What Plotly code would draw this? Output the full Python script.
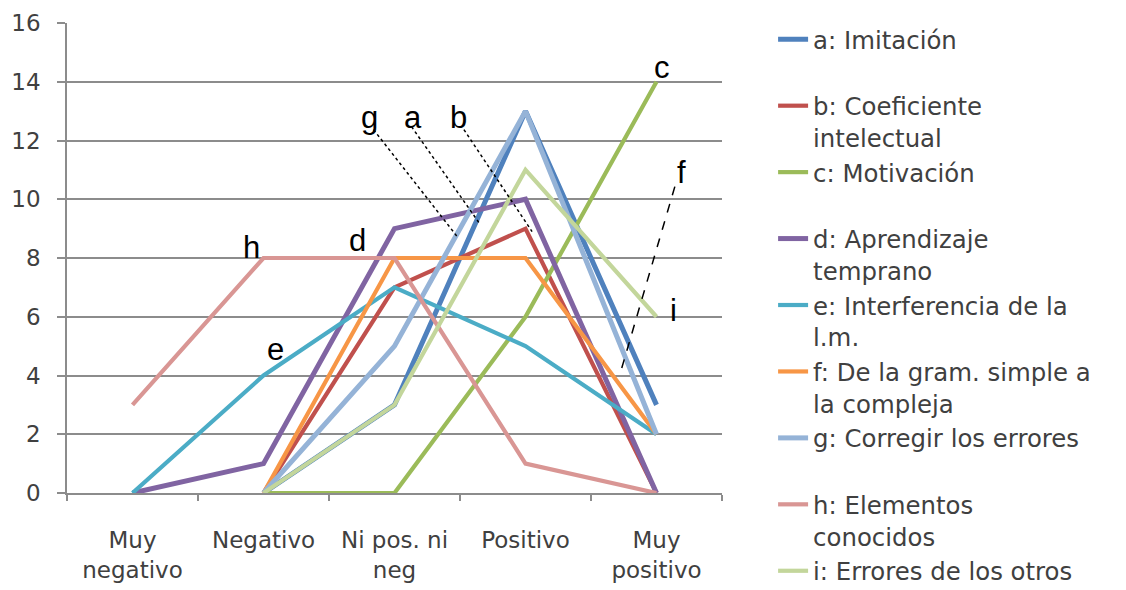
import plotly.graph_objects as go

# Response categories on the x axis
categories = ["Muy<br>negativo", "Negativo", "Ni pos. ni<br>neg", "Positivo", "Muy<br>positivo"]

# Counts per factor (None = no answer recorded for that category)
a_imitacion = [None, 0, 3, 13, 3]
b_coeficiente = [None, 0, 7, 9, 0]
c_motivacion = [None, 0, 0, 6, 14]
d_aprendizaje = [0, 1, 9, 10, 0]
e_interferencia = [0, 4, 7, 5, 2]
f_gramatica = [None, 0, 8, 8, 2]
g_corregir = [None, 0, 5, 13, 2]
h_elementos = [3, 8, 8, 1, 0]
i_errores = [None, 0, 3, 11, 6]

series_names = [
    "a: Imitación<br> ",
    "b: Coeficiente<br>intelectual",
    "c: Motivación<br> ",
    "d: Aprendizaje<br>temprano",
    "e: Interferencia de la<br>l.m.",
    "f: De la gram. simple a<br>la compleja",
    "g: Corregir los errores<br> ",
    "h: Elementos<br>conocidos",
    "i: Errores de los otros",
]
series_values = [a_imitacion, b_coeficiente, c_motivacion, d_aprendizaje,
                 e_interferencia, f_gramatica, g_corregir, h_elementos, i_errores]
series_colors = ["#4F81BD", "#C0504D", "#9BBB59", "#8064A2", "#4BACC6",
                 "#F79646", "#95B3D7", "#D99694", "#C3D69B"]
series_widths = [5, 4.2, 4.2, 5, 4.2, 4.2, 5, 4.2, 4.2]

# Letter tags placed beside the lines: (letter, x index, y value)
tags = [
    ("g", 1.81, 12.8), ("a", 2.14, 12.8), ("b", 2.49, 12.8),
    ("c", 4.04, 14.5), ("f", 4.19, 10.9), ("i", 4.13, 6.2),
    ("d", 1.72, 8.6), ("h", 0.91, 8.35), ("e", 1.09, 4.9),
]
# Leader lines from tags to their lines: (x0, y0, x1, y1, dash)
leaders = [
    (1.84, 12.37, 2.48, 8.72, "dot"),
    (2.13, 12.47, 2.65, 9.17, "dot"),
    (2.53, 12.37, 3.05, 8.90, "dot"),
    (4.14, 10.43, 3.72, 4.03, "dash"),
]

fig = go.Figure()
for name, vals, col, w in zip(series_names, series_values, series_colors, series_widths):
    fig.add_trace(go.Scatter(
        x=categories, y=vals, name=name, mode="lines",
        line=dict(color=col, width=w), connectgaps=False,
    ))

for letter, xi, yv in tags:
    fig.add_annotation(
        x=xi, y=yv, xref="x", yref="y", text=letter, showarrow=False,
        font=dict(family="Liberation Sans", size=31, color="#000000"),
    )

for x0, y0, x1, y1, dash in leaders:
    fig.add_shape(
        type="line", xref="x", yref="y", x0=x0, y0=y0, x1=x1, y1=y1,
        line=dict(color="#000000", width=1.5, dash=dash),
    )

axis_font = dict(family="DejaVu Sans", size=23, color="#404040")

fig.update_layout(
    width=1126, height=590,
    margin=dict(l=67, r=404, t=23, b=97, autoexpand=False),
    paper_bgcolor="#ffffff", plot_bgcolor="#ffffff",
    showlegend=True,
    legend=dict(
        x=1.078, xanchor="left", y=1.013, yanchor="top", maxheight=590,
        font=dict(family="DejaVu Sans", size=24.4, color="#404040"),
        valign="top", bgcolor="rgba(0,0,0,0)", borderwidth=0,
        itemclick=False, itemdoubleclick=False,
    ),
    xaxis=dict(
        type="category", range=[-0.5, 4.5], showgrid=False, showline=True,
        linecolor="#8c8c8c", linewidth=1.6, ticks="outside", tickson="boundaries",
        ticklen=6, tickcolor="#8c8c8c", tickwidth=1.6, tickfont=axis_font,
        zeroline=False, ticklabelstandoff=26,
    ),
    yaxis=dict(
        range=[0, 16], dtick=2, showgrid=True, gridcolor="#8c8c8c", gridwidth=1.6,
        showline=True, linecolor="#8c8c8c", linewidth=1.6, ticks="outside",
        ticklen=8, tickcolor="#8c8c8c", tickwidth=1.6, tickfont=axis_font,
        zeroline=False, ticklabelstandoff=12,
    ),
)

fig.write_html("out.html")
